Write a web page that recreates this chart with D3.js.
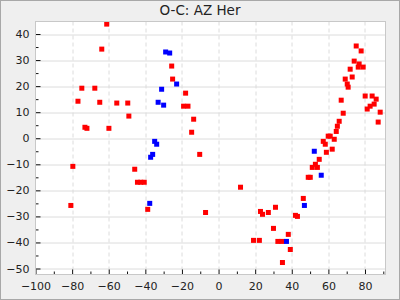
<!DOCTYPE html>
<html>
<head>
<meta charset="utf-8">
<script src="https://cdn.jsdelivr.net/npm/d3@7"></script>
<style>
  body { margin: 0; }
  svg { display: block; font-family: "DejaVu Sans", sans-serif; }
</style>
</head>
<body>
<svg width="400" height="300"></svg>
<script>
// O-C values: [epoch offset, O-C]
var redPoints = [
  [-61.1, 43.8], [-63.8, 34.2], [-74.7, 19.2], [-67.6, 19.2], [-76.8, 14.2],
  [-64.9, 13.8], [-55.6, 13.5], [-49.6, 13.5], [-49.0, 8.5], [-73.0, 4.2],
  [-71.9, 3.8], [-59.9, 3.8], [-79.6, -10.8], [-45.8, -11.9], [-44.3, -16.9],
  [-42.5, -16.9], [-40.6, -16.9], [-38.7, -27.3], [-80.7, -25.8], [-25.6, 27.7],
  [-25.1, 22.7], [-18.0, 17.3], [-19.1, 12.3], [-16.7, 12.3], [-13.6, 7.3],
  [-14.7, 2.3], [-10.3, -6.2], [-7.1, -28.5], [12.0, -18.8], [22.9, -28.1],
  [24.0, -29.2], [27.2, -28.5], [31.1, -26.5], [42.0, -29.6], [43.1, -30.0],
  [30.0, -34.6], [38.1, -36.9], [19.1, -39.2], [22.3, -39.2], [32.4, -39.6],
  [34.6, -39.6], [39.2, -42.7], [34.9, -47.7], [46.3, -23.1], [49.0, -15.0],
  [50.1, -15.0], [51.2, -11.2], [52.9, -10.0], [54.0, -11.2], [55.0, -8.1],
  [58.9, -5.4], [62.1, -4.2], [57.2, -1.2], [58.3, -2.3], [59.9, 0.8],
  [61.0, 0.8], [63.2, -0.4], [64.3, 2.6], [64.9, 4.6], [65.9, 6.5],
  [68.1, 9.6], [67.0, 14.6], [70.3, 20.8], [70.8, 19.6], [69.2, 22.7],
  [73.0, 23.5], [71.9, 26.5], [76.3, 27.3], [79.0, 27.3], [76.8, 28.5],
  [74.1, 29.6], [77.9, 33.5], [75.2, 35.4], [80.1, 16.2], [83.9, 16.2],
  [86.1, 15.0], [85.0, 13.1], [82.8, 12.3], [81.2, 11.2], [88.3, 10.0],
  [87.2, 6.2]
];

var bluePoints = [
  [-33.0, 13.8], [-30.0, 12.7], [-34.9, -1.2], [-33.8, -2.3], [-36.0, -6.2],
  [-37.1, -7.3], [-37.6, -25.0], [-28.9, 33.1], [-26.7, 32.7], [-22.9, 20.8],
  [-31.1, 18.8], [37.1, -39.6], [46.9, -25.8], [56.1, -14.2], [52.3, -5.0]
];

var xTicks = [-100, -80, -60, -40, -20, 0, 20, 40, 60, 80];
var xMinor = d3.range(-100, 91, 10);
var yTicks = [40, 30, 20, 10, 0, -10, -20, -30, -40, -50];
var yMinor = d3.range(-50, 45, 5);

var svg = d3.select("svg"),
  width = +svg.attr("width"),
  height = +svg.attr("height");

var margin = {left: 35.5, right: 14.5, top: 21.5, bottom: 25.5};
var pw = width - margin.left - margin.right,
  ph = height - margin.top - margin.bottom;

// background
svg.append("rect")
  .attr("x", 0.5).attr("y", 0.5)
  .attr("width", width - 1).attr("height", height - 1)
  .attr("fill", "#efefef")
  .attr("stroke", "#a8a8a8");

svg.append("text")
  .attr("x", width / 2).attr("y", 15)
  .attr("text-anchor", "middle")
  .attr("font-size", 13.5)
  .attr("fill", "#222")
  .text("O-C: AZ Her");

var g = svg.append("g").attr("transform", "translate(" + margin.left + "," + margin.top + ")");

var x = d3.scaleLinear().domain([-100, 91.2]).range([0, pw]);
var y = d3.scaleLinear().domain([-52.3, 44.8]).range([ph, 0]);

g.append("rect")
  .attr("width", pw).attr("height", ph)
  .attr("fill", "white");

// grid
g.append("g").selectAll("line")
  .data(yTicks)
  .enter().append("line")
  .attr("x1", 0).attr("x2", pw)
  .attr("y1", function(d) { return Math.round(y(d)) + 0.5; })
  .attr("y2", function(d) { return Math.round(y(d)) + 0.5; })
  .attr("stroke", "#dcdcdc");

g.append("g").selectAll("line")
  .data(xTicks.slice(1))
  .enter().append("line")
  .attr("y1", 0).attr("y2", ph)
  .attr("x1", function(d) { return Math.round(x(d)) + 0.5; })
  .attr("x2", function(d) { return Math.round(x(d)) + 0.5; })
  .attr("stroke", "#dcdcdc")
  .attr("stroke-dasharray", "4,3");

// axes (ticks inside the plot)
g.append("g")
  .call(d3.axisLeft(y).tickValues(yTicks).tickSize(-5).tickPadding(6));
g.append("g")
  .call(d3.axisLeft(y).tickValues(yMinor.filter(function(d) { return d % 10 !== 0; })).tickSize(-3).tickFormat(""));

g.append("g")
  .attr("transform", "translate(0," + ph + ")")
  .call(d3.axisBottom(x).tickValues(xTicks).tickSize(-5).tickPadding(8));
g.append("g")
  .attr("transform", "translate(0," + ph + ")")
  .call(d3.axisBottom(x).tickValues(xMinor.filter(function(d) { return d % 20 !== 0; })).tickSize(-3).tickFormat(""));

g.selectAll(".domain").remove();
g.selectAll(".tick line").attr("stroke", "#111");
g.selectAll(".tick text").attr("font-size", 11).attr("fill", "#222")
  .attr("font-family", "DejaVu Sans, sans-serif");

// points
var s = 5;
g.append("g").selectAll("rect")
  .data(redPoints)
  .enter().append("rect")
  .attr("x", function(d) { return x(d[0]) - s / 2; })
  .attr("y", function(d) { return y(d[1]) - s / 2; })
  .attr("width", s).attr("height", s)
  .attr("fill", "#ff0000");

g.append("g").selectAll("rect")
  .data(bluePoints)
  .enter().append("rect")
  .attr("x", function(d) { return x(d[0]) - s / 2; })
  .attr("y", function(d) { return y(d[1]) - s / 2; })
  .attr("width", s).attr("height", s)
  .attr("fill", "#0000ff");

// frame
g.append("rect")
  .attr("width", pw).attr("height", ph)
  .attr("fill", "none")
  .attr("stroke", "#c8c8c8");
</script>
</body>
</html>
